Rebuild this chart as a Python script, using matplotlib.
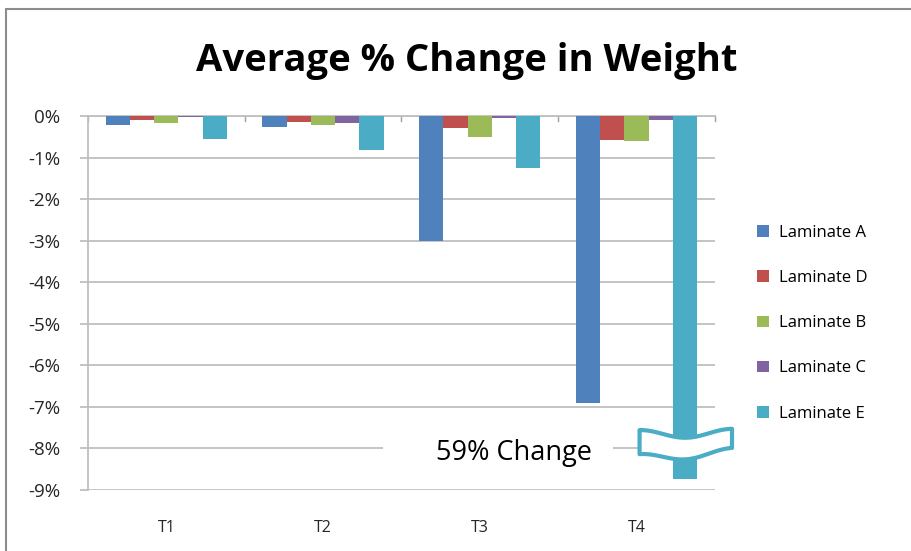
import numpy as np
import matplotlib
matplotlib.use('Agg')
import matplotlib.pyplot as plt
from matplotlib.patches import Rectangle, Polygon

plt.rcParams['font.family'] = ['Open Sans', 'DejaVu Sans']

# Datos
categorias = ['T1', 'T2', 'T3', 'T4']
series = ['Laminate A', 'Laminate D', 'Laminate B', 'Laminate C', 'Laminate E']
lam_a = [-0.20, -0.27, -3.00, -6.90]
lam_d = [-0.10, -0.15, -0.28, -0.56]
lam_b = [-0.17, -0.20, -0.50, -0.60]
lam_c = [-0.02, -0.17, -0.03, -0.10]
lam_e = [-0.55, -0.82, -1.25, -8.75]  # T4 recortado (real 59%)
colores = ['#4F81BD', '#C0504D', '#9BBB59', '#8064A2', '#4BACC6']

valores = [lam_a, lam_d, lam_b, lam_c, lam_e]

fig = plt.figure(figsize=(9.11, 5.51), dpi=100)
ax = fig.add_axes([0.0966, 0.111, 0.688, 0.678])

x = np.arange(len(categorias))
ancho = 0.155
for i, (nombre, vals, col) in enumerate(zip(series, valores, colores)):
    ax.bar(x + (i - 2) * ancho, vals, ancho, color=col, label=nombre, zorder=3)

ax.set_xlim(-0.5, 3.5)
ax.set_ylim(-9, 0)
ax.set_yticks(np.arange(-9, 1, 1))
ax.set_yticklabels(['%d%%' % v for v in np.arange(-9, 1, 1)], fontsize=13.5, color='#262626')
ax.yaxis.grid(True, color='#BFBFBF', linewidth=1.3)
ax.set_axisbelow(True)
ax.tick_params(axis='y', length=6, color='#BFBFBF', width=1.3, pad=14)

# eje x: etiquetas abajo, marcas en la línea de 0
ax.set_xticks(x)
ax.set_xticklabels(categorias, fontsize=11.5, color='#262626')
ax.tick_params(axis='x', length=0, pad=22)
for b in np.arange(-0.5, 4.0, 1.0):
    ax.plot([b, b], [0, -0.12], color='#A0A0A0', linewidth=1, zorder=2, clip_on=False)

for s in ['right', 'bottom']:
    ax.spines[s].set_visible(False)
ax.spines['left'].set_color('#BFBFBF')
ax.spines['left'].set_linewidth(1.3)
ax.spines['top'].set_color('#BFBFBF')
ax.spines['top'].set_linewidth(1.3)

# tapa blanca detrás del texto
ax.add_patch(Rectangle((1.38, -8.2), 1.47, 0.4, facecolor='white', edgecolor='none', zorder=2))
ax.text(2.22, -8.12, '59% Change', fontsize=19.5, ha='center', va='center', zorder=6)

# corte de la barra E en T4
xe = x[3] + 2 * ancho
t = np.linspace(0, 1, 50)
xs = xe - 0.29 + 0.59 * t
top = -7.66 + 0.10 * np.cos(2 * np.pi * t) + 0.03 * t
bot = top - 0.58 + 0.12 * t
pts = np.column_stack([np.concatenate([xs, xs[::-1]]), np.concatenate([top, bot[::-1]])])
ax.add_patch(Polygon(pts, closed=True, facecolor='white', edgecolor='#4BACC6',
                     linewidth=3, joinstyle='round', zorder=5, clip_on=False))

ax.legend(loc='center left', bbox_to_anchor=(1.044, 0.446), frameon=False, fontsize=12,
          handlelength=0.7, handleheight=0.7, handletextpad=0.6, labelspacing=1.75)

fig.text(0.512, 0.89, 'Average % Change in Weight', fontsize=27.5, fontweight='bold',
         ha='center', va='center')

# marco del gráfico
fig.patches.append(Rectangle((0.0066, -0.1), 1.1, 1.084, transform=fig.transFigure,
                             fill=False, edgecolor='#8C8C8C', linewidth=1.5))

plt.savefig('out.png', dpi=100)
